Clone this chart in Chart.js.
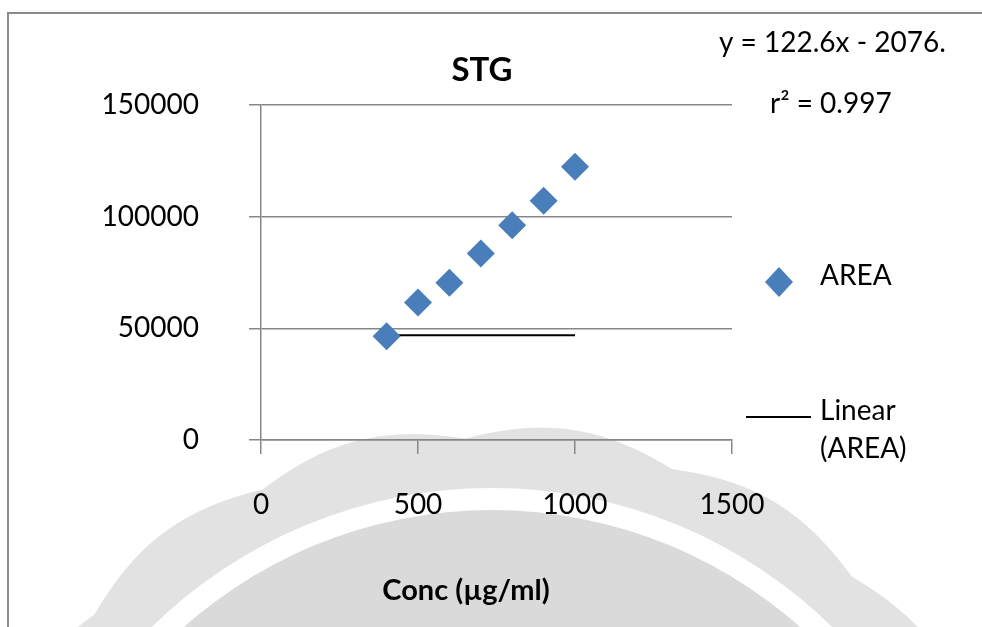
<!DOCTYPE html>
<html>
<head>
<meta charset="utf-8">
<script src="https://cdn.jsdelivr.net/npm/chart.js@4"></script>
<style>
    body { margin: 0; background: #ffffff; }
    #wrap { width: 982px; height: 627px; position: relative; }
</style>
</head>
<body>
<div id="wrap"><canvas id="stgChart"></canvas></div>
<script>
// data
const concentrations = [400, 500, 600, 700, 800, 900, 1000];
const areaValues = [46500, 61600, 70400, 83500, 96200, 107100, 122300];
const trendX = [400, 1000];
const trendY = [46900, 46900];
const xTicks = [0, 500, 1000, 1500];
const yTicks = [0, 50000, 100000, 150000];

const chartTitle = "STG";
const xAxisTitle = "Conc (µg/ml)";
const equationText = "y = 122.6x - 2076.";
const rSquaredText = "r² = 0.997";
const seriesName = "AREA";
const trendName = ["Linear", "(AREA)"];

const blue = "#4a7ebb";
const gridGray = "#878787";
const font = "Lato, 'Open Sans', sans-serif";

// faint round logo behind the chart
const watermark = {
    id: "watermark",
    beforeDraw(chart) {
        const ctx = chart.ctx;
        const cx = 492, cy = 974;
        const peak = Math.atan2(432 - cy, 572 - cx);
        ctx.save();
        ctx.beginPath();
        for (let i = 0; i <= 1440; i++) {
            const a = i / 1440 * Math.PI * 2;
            const r = 536 + 14 * Math.abs(Math.cos(8 * (a - peak)));
            const px = cx + r * Math.cos(a);
            const py = cy + r * Math.sin(a);
            if (i === 0) ctx.moveTo(px, py); else ctx.lineTo(px, py);
        }
        ctx.closePath();
        ctx.fillStyle = "#e2e2e2";
        ctx.fill();
        ctx.beginPath();
        ctx.arc(cx, cy, 486, 0, Math.PI * 2);
        ctx.fillStyle = "#ffffff";
        ctx.fill();
        ctx.beginPath();
        ctx.arc(cx, cy, 464, 0, Math.PI * 2);
        ctx.fillStyle = "#dadada";
        ctx.fill();
        ctx.restore();
    }
};

// title, equation, legend, axis title and frame
const decorations = {
    id: "decorations",
    afterDraw(chart) {
        const ctx = chart.ctx;
        ctx.save();

        ctx.strokeStyle = "#8a8a8a";
        ctx.lineWidth = 2;
        ctx.beginPath();
        ctx.moveTo(8, 627);
        ctx.lineTo(8, 13);
        ctx.lineTo(982, 13);
        ctx.stroke();

        ctx.fillStyle = "#000";
        ctx.textBaseline = "alphabetic";

        ctx.font = "bold 33px " + font;
        ctx.textAlign = "center";
        ctx.fillText(chartTitle, 482, 81);

        ctx.font = "bold 29px " + font;
        ctx.fillText(xAxisTitle, 466, 600);

        ctx.font = "28px " + font;
        ctx.textAlign = "left";
        ctx.fillText(equationText, 719, 52);
        ctx.fillText(rSquaredText, 770, 113);

        // legend: diamond marker
        ctx.fillStyle = blue;
        ctx.beginPath();
        ctx.moveTo(779 - 14, 282);
        ctx.lineTo(779, 282 - 15);
        ctx.lineTo(779 + 14, 282);
        ctx.lineTo(779, 282 + 15);
        ctx.closePath();
        ctx.fill();

        ctx.fillStyle = "#000";
        ctx.fillText(seriesName, 820, 285);

        // legend: trend line
        ctx.strokeStyle = "#000";
        ctx.lineWidth = 2;
        ctx.beginPath();
        ctx.moveTo(746, 417);
        ctx.lineTo(811, 417);
        ctx.stroke();
        ctx.fillText(trendName[0], 820, 420);
        ctx.fillText(trendName[1], 820, 458);

        ctx.restore();
    }
};

const ctx = document.getElementById("stgChart");

new Chart(ctx, {
    type: "scatter",
    data: {
        datasets: [
            {
                label: seriesName,
                data: concentrations.map((x, i) => ({ x: x, y: areaValues[i] })),
                pointStyle: "rectRot",
                pointRadius: 14,
                pointHoverRadius: 14,
                backgroundColor: blue,
                borderWidth: 0
            },
            {
                label: trendName.join(" "),
                type: "line",
                data: trendX.map((x, i) => ({ x: x, y: trendY[i] })),
                borderColor: "#000",
                borderWidth: 2,
                pointRadius: 0,
                fill: false
            }
        ]
    },
    options: {
        responsive: true,
        maintainAspectRatio: false,
        animation: false,
        layout: {
            padding: { left: 0, top: 105, right: 250, bottom: 0 }
        },
        plugins: {
            legend: { display: false },
            title: { display: false },
            tooltip: { enabled: false }
        },
        scales: {
            x: {
                type: "linear",
                min: 0,
                max: 1500,
                afterBuildTicks: scale => { scale.ticks = xTicks.map(v => ({ value: v })); },
                afterFit: scale => { scale.height = 627 - 440; },
                grid: {
                    drawOnChartArea: false,
                    drawTicks: true,
                    tickLength: 14,
                    color: gridGray,
                    lineWidth: 1.5
                },
                border: { color: gridGray, width: 1.5 },
                ticks: {
                    padding: 34,
                    color: "#000",
                    font: { family: font, size: 28 },
                    callback: v => String(v)
                }
            },
            y: {
                min: 0,
                max: 150000,
                afterBuildTicks: scale => { scale.ticks = yTicks.map(v => ({ value: v })); },
                afterFit: scale => { scale.width = 261; },
                grid: {
                    drawTicks: true,
                    tickLength: 12,
                    color: gridGray,
                    lineWidth: 1.5
                },
                border: { color: gridGray, width: 1.5 },
                ticks: {
                    padding: 50,
                    color: "#000",
                    font: { family: font, size: 28 },
                    callback: v => String(v)
                }
            }
        }
    },
    plugins: [watermark, decorations]
});
</script>
</body>
</html>
